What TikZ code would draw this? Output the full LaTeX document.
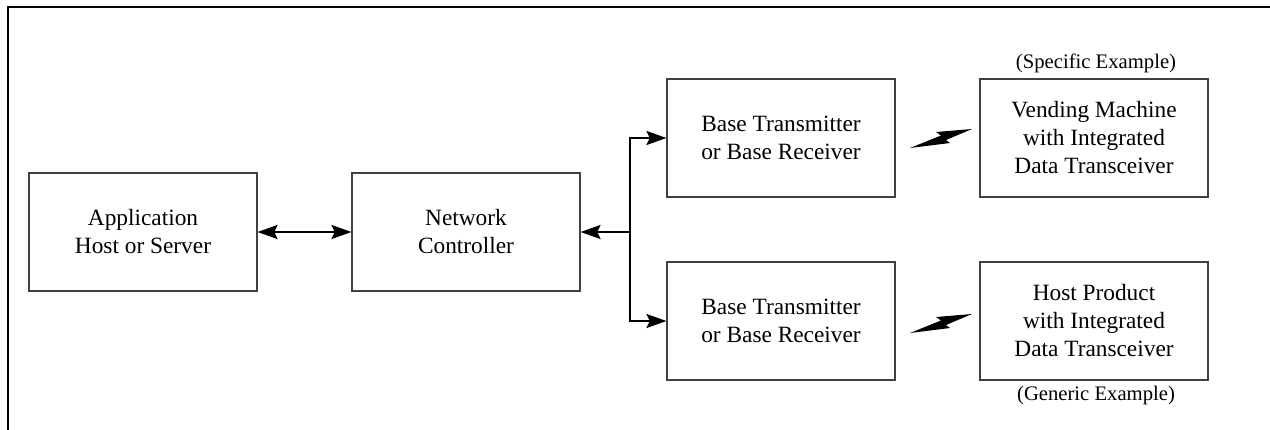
\documentclass[tikz,border=0pt]{standalone}
\usepackage{fontspec}
\setmainfont{Liberation Serif}
\usetikzlibrary{arrows.meta}

\tikzset{
  unit/.style={draw=black!75, line width=0.8pt, minimum width=171pt, minimum height=88.5pt,
    inner sep=0pt, align=center, font=\fontsize{17.5}{21}\selectfont},
  tip/.tip={Stealth[length=15pt,width=10.5pt,inset=2.5pt]},
  link/.style={line width=1.6pt, -tip},
  note/.style={font=\fontsize{15.5}{18}\selectfont},
  bolt/.pic={\fill (0,0) -- (31,-12.5) -- (26,-16) -- (62,-19) -- (36,-8) -- (40,-5) -- cycle;}
}

\begin{document}
\begin{tikzpicture}[x=0.75pt,y=-0.75pt]
  \useasboundingbox (0,0) rectangle (1270,429);
  \clip (0,0) rectangle (1270,429);
  \draw[line width=1.5pt] (8,440) -- (8,7) -- (1280,7);

  \node[unit] (app) at (143,232) {Application\\Host or Server};
  \node[unit] (nc) at (466,232) {Network\\Controller};
  \node[unit] (bt1) at (781,138) {Base Transmitter\\or Base Receiver};
  \node[unit] (bt2) at (781,321) {Base Transmitter\\or Base Receiver};
  \node[unit] (vm) at (1094,138) {Vending Machine\\with Integrated\\Data Transceiver};
  \node[unit] (hp) at (1094,321) {Host Product\\with Integrated\\Data Transceiver};
  \node[note] (spec) at (1096,63) {(Specific Example)};
  \node[note] (gen) at (1096,396) {(Generic Example)};

  \coordinate (split) at (630,232);
  \draw[line width=1.6pt, tip-tip] (app) -- (nc);
  \draw[link] (split) -- (nc);
  \foreach \to in {bt1, bt2}
    \draw[link] (split) |- (\to);

  % radio links
  \foreach \y in {148, 333}
    \pic at (910,\y) {bolt};
\end{tikzpicture}
\end{document}
